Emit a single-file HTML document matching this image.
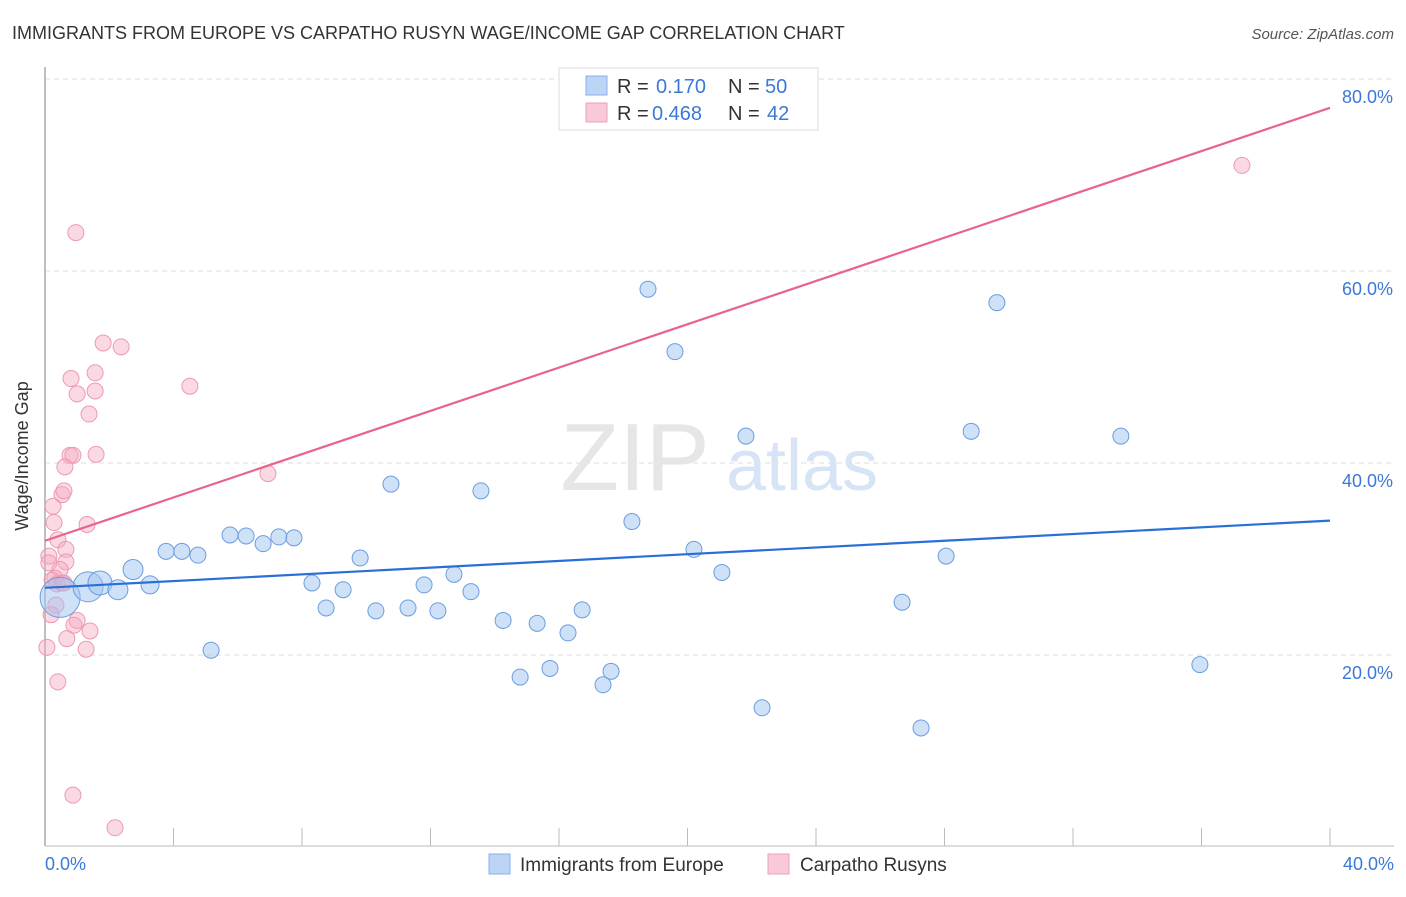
<!DOCTYPE html>
<html><head><meta charset="utf-8"><style>
body{margin:0;background:#fff;font-family:"Liberation Sans",sans-serif;}
svg text{font-family:"Liberation Sans",sans-serif;}
</style></head><body>
<svg id="chart" width="1406" height="892" viewBox="0 0 1406 892" xmlns="http://www.w3.org/2000/svg">
<text x="12" y="39" font-size="18" fill="#333">IMMIGRANTS FROM EUROPE VS CARPATHO RUSYN WAGE/INCOME GAP CORRELATION CHART</text>
<text x="1394" y="39" font-size="15" fill="#555" font-style="italic" text-anchor="end">Source: ZipAtlas.com</text>
<g id="grid"></g>
<g><text x="635" y="490" font-size="96" fill="#e6e6e6" font-family="Liberation Serif,serif" text-anchor="middle">ZIP</text><text x="802" y="490" font-size="72" fill="#d6e4f5" text-anchor="middle">atlas</text></g>
<line x1="45" y1="67" x2="45" y2="846" stroke="#aaa" stroke-width="1.5"/>
<line x1="45" y1="846" x2="1394" y2="846" stroke="#bbb" stroke-width="1"/>
<g id="xticks"></g>
<text x="28" y="456" font-size="18" fill="#333" text-anchor="middle" transform="rotate(-90 28 456)">Wage/Income Gap</text>
<text x="45" y="870" font-size="18" fill="#3b78d8">0.0%</text>
<text x="1394" y="870" font-size="18" fill="#3b78d8" text-anchor="end">40.0%</text>
<g id="ylabels"></g>
<g id="pinkPts"></g>
<g id="bluePts"></g>
<g id="lines"></g>
<g>
<rect x="559" y="68" width="259" height="62" fill="#fff" stroke="#ddd"/>
<g><rect x="586" y="76" width="21" height="19" fill="#bcd4f6" stroke="#8ab0e8"/>
<text x="617" y="93" font-size="20" fill="#333">R = </text><text x="656" y="93" font-size="20" fill="#3b78d8">0.170</text>
<text x="728" y="93" font-size="20" fill="#333">N = </text><text x="765" y="93" font-size="20" fill="#3b78d8">50</text></g>
<g><rect x="586" y="103" width="21" height="19" fill="#f9c9d7" stroke="#eea0b8"/>
<text x="617" y="120" font-size="20" fill="#333">R = </text><text x="652" y="120" font-size="20" fill="#3b78d8">0.468</text>
<text x="728" y="120" font-size="20" fill="#333">N = </text><text x="767" y="120" font-size="20" fill="#3b78d8">42</text></g>
</g>
<g>
<g><rect x="489" y="854" width="21" height="20" fill="#bcd4f6" stroke="#8ab0e8"/><text x="520" y="871" font-size="19" fill="#333">Immigrants from Europe</text></g>
<g><rect x="768" y="854" width="21" height="20" fill="#f9c9d7" stroke="#eea0b8"/><text x="800" y="871" font-size="19" fill="#333">Carpatho Rusyns</text></g>
</g>
</svg>
<script>
const yTicks=[20,40,60,80];
const yTickLabels=["20.0%","40.0%","60.0%","80.0%"];
const xTicks=[4,8,12,16,20,24,28,32,36,40];
const blueX=[0.47,1.34,1.71,2.27,2.74,3.27,3.77,4.26,4.76,5.17,5.76,6.26,6.79,7.28,7.75,8.31,8.75,9.28,9.81,10.30,10.77,11.30,11.80,12.23,12.73,13.26,13.57,14.26,14.79,15.32,15.72,16.28,16.72,17.37,17.62,18.27,18.77,19.61,20.20,21.07,21.82,22.32,26.68,27.27,28.05,28.83,29.63,33.49,35.95];
const blueY=[26.0,27.1,27.5,26.8,28.9,27.3,30.8,30.8,30.4,20.5,32.5,32.4,31.6,32.3,32.2,27.5,24.9,26.8,30.1,24.6,37.8,24.9,27.3,24.6,28.4,26.6,37.1,23.6,17.7,23.3,18.6,22.3,24.7,16.9,18.3,33.9,58.1,51.6,31.0,28.6,42.8,14.5,25.5,12.4,30.3,43.3,56.7,42.8,19.0];
const blueSize=[20,15,12,10,10,9,8,8,8,8,8,8,8,8,8,8,8,8,8,8,8,8,8,8,8,8,8,8,8,8,8,8,8,8,8,8,8,8,8,8,8,8,8,8,8,8,8,8,8];
const pinkX=[0.96,37.26,1.81,2.37,0.81,1.56,1.0,1.56,4.51,1.37,0.78,0.87,1.59,0.62,6.94,0.53,0.59,0.25,0.28,1.31,0.40,0.65,0.12,0.12,0.65,0.47,0.31,0.22,0.37,0.53,0.59,0.34,0.19,1.0,0.90,1.40,0.68,0.06,1.28,0.40,0.87,2.18];
const pinkY=[64.0,71.0,52.5,52.1,48.8,49.4,47.2,47.5,48.0,45.1,40.8,40.8,40.9,39.6,38.9,36.7,37.1,35.5,33.8,33.6,32.0,31.0,30.3,29.6,29.7,28.9,28.0,27.8,27.4,27.5,27.5,25.2,24.2,23.6,23.1,22.5,21.7,20.8,20.6,17.2,5.4,2.0];
const blueTrend=[27.0,34.0];
const pinkTrend=[31.9,77.0];
const NS="http://www.w3.org/2000/svg";
function sx(v){return 45+v*(1330-45)/40;}
function sy(v){return 847-v*9.6;}
function mk(tag,attrs,parent){const e=document.createElementNS(NS,tag);for(const k in attrs)e.setAttribute(k,attrs[k]);parent.appendChild(e);return e;}
const grid=document.getElementById('grid'),yl=document.getElementById('ylabels');
yTicks.forEach((t,i)=>{
 const l=mk('line',{x1:45,x2:1394,y1:sy(t),y2:sy(t),stroke:'#ddd','stroke-dasharray':'5,4'},grid);
 
 
 const tx=mk('text',{x:1393,y:sy(t)+24,'font-size':18,fill:'#3b78d8','text-anchor':'end'},yl);
 tx.textContent=yTickLabels[i];
 
 
});
const xt=document.getElementById('xticks');
xTicks.forEach(t=>{
 const l=mk('line',{x1:sx(t),x2:sx(t),y1:828,y2:846,stroke:'#bbb'},xt);
 
 
});
const pp=document.getElementById('pinkPts');
pinkX.forEach((x,i)=>{
 const c=mk('circle',{cx:sx(x),cy:sy(pinkY[i]),r:8,fill:'rgba(246,170,194,0.45)',stroke:'#eb9ab4','stroke-width':1},pp);
 
 
});
const bp=document.getElementById('bluePts');
blueX.forEach((x,i)=>{
 const c=mk('circle',{cx:sx(x),cy:sy(blueY[i]),r:blueSize[i],fill:'rgba(160,196,240,0.5)',stroke:'#6a9de0','stroke-width':1},bp);
 
 
});
const ln=document.getElementById('lines');
const pl=mk('line',{x1:sx(0),y1:sy(pinkTrend[0]),x2:sx(40),y2:sy(pinkTrend[1]),stroke:'#e8648f','stroke-width':2.2},ln);


const bl=mk('line',{x1:sx(0),y1:sy(blueTrend[0]),x2:sx(40),y2:sy(blueTrend[1]),stroke:'#2a6fd6','stroke-width':2.2},ln);


</script>
</body></html>
